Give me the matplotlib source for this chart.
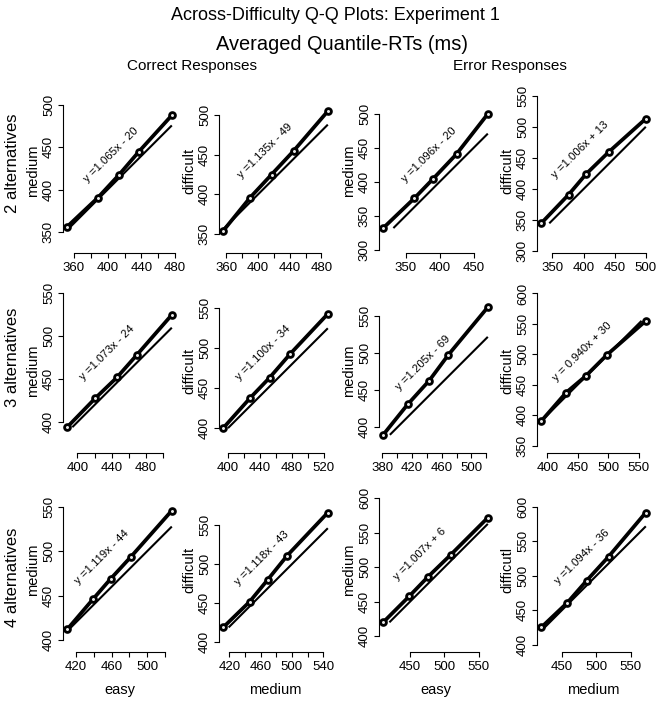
import numpy as np
import matplotlib.pyplot as plt

plt.rcParams['font.family'] = ['Liberation Sans', 'DejaVu Sans']

# ---------------------------------------------------------
# Averaged quantile RTs (ms), 5 quantiles per condition
# ---------------------------------------------------------
alternatives = ["2 alternatives", "3 alternatives", "4 alternatives"]

correct_easy = [[352, 388, 413, 437, 476],
                [388, 421, 446, 469, 510],
                [410, 439, 459, 482, 528]]
correct_medium = [[356, 390, 417, 445, 488],
                  [394, 428, 452, 478, 525],
                  [412, 446, 469, 494, 546]]
correct_difficult = [[354, 396, 425, 455, 505],
                     [400, 438, 463, 493, 543],
                     [419, 452, 480, 511, 566]]

error_easy = [[317, 363, 390, 425, 471],
              [381, 414, 443, 469, 522],
              [411, 449, 476, 509, 563]]
error_medium = [[332, 376, 404, 441, 500],
                [390, 431, 463, 498, 562],
                [420, 458, 486, 518, 572]]
error_difficult = [[345, 391, 424, 460, 513],
                   [390, 437, 464, 499, 555],
                   [425, 461, 493, 528, 592]]

fit_labels = [
    ["y =1.065x - 20", "y =1.135x - 49", "y =1.096x - 20", "y =1.006x + 13"],
    ["y =1.073x - 24", "y =1.100x - 34", "y =1.205x - 69", "y = 0.940x + 30"],
    ["y =1.119x - 44", "y =1.118x - 43", "y =1.007x + 6", "y =1.094x - 36"],
]
y_names = [
    ["medium", "difficult", "medium", "difficult"],
    ["medium", "difficult", "medium", "difficult"],
    ["medium", "difficult", "medium", "difficutl"],
]
x_names = ["easy", "medium", "easy", "medium"]

# tick spacing per panel (x, y)
x_steps = [[20, 20, 50, 50], [20, 20, 20, 50], [20, 20, 50, 50]]
y_steps = [[50, 50, 50, 50], [50, 50, 50, 50], [50, 50, 50, 50]]

# where the fit equation sits (axes fraction)
annot_pos = [
    [(0.43, 0.60), (0.41, 0.62), (0.44, 0.60), (0.38, 0.63)],
    [(0.39, 0.61), (0.39, 0.61), (0.39, 0.55), (0.40, 0.62)],
    [(0.34, 0.58), (0.38, 0.57), (0.36, 0.60), (0.40, 0.58)],
]

# ---------------------------------------------------------
# Layout (pixels)
# ---------------------------------------------------------
W, H = 664, 703
col_left = [63, 219, 379, 537]
row_bottom = [253, 453, 652]
row_label_y = [163, 357, 577]
box_w, box_h = 113, 164

fig = plt.figure(figsize=(W / 100, H / 100), dpi=100)


def asp_limits(x, y, w, h):
    # like R's plot.window(asp = 1): 4% padding, then stretch one axis
    x0, x1 = min(x), max(x)
    y0, y1 = min(y), max(y)
    x0, x1 = x0 - 0.04 * (x1 - x0), x1 + 0.04 * (x1 - x0)
    y0, y1 = y0 - 0.04 * (y1 - y0), y1 + 0.04 * (y1 - y0)
    scale = min(w / (x1 - x0), h / (y1 - y0))
    xc, yc = (x0 + x1) / 2, (y0 + y1) / 2
    xr, yr = w / scale, h / scale
    return (xc - xr / 2, xc + xr / 2), (yc - yr / 2, yc + yr / 2)


def ticks_in(lim, step):
    start = np.ceil(lim[0] / step) * step
    return np.arange(start, lim[1] + 1e-9, step)


for r in range(3):
    pairs = [(correct_easy[r], correct_medium[r]),
             (correct_medium[r], correct_difficult[r]),
             (error_easy[r], error_medium[r]),
             (error_medium[r], error_difficult[r])]
    for c, (x, y) in enumerate(pairs):
        ax = fig.add_axes([col_left[c] / W, 1 - row_bottom[r] / H, box_w / W, box_h / H])
        xlim, ylim = asp_limits(x, y, box_w, box_h)
        ax.set_xlim(xlim)
        ax.set_ylim(ylim)

        # identity line over the shared range
        lo, hi = max(min(x), min(y)), min(max(x), max(y))
        ax.plot([lo, hi], [lo, hi], color='black', lw=1.5, solid_capstyle='butt')
        ax.plot(x, y, color='black', lw=2.7, marker='o', ms=4.2, mew=2.0,
                mfc='#e8e8e8', mec='black', solid_capstyle='butt')

        ax.text(annot_pos[r][c][0], annot_pos[r][c][1], fit_labels[r][c],
                transform=ax.transAxes, rotation=45, ha='center', va='center',
                rotation_mode='anchor', fontsize=8.2)

        xt = ticks_in(xlim, x_steps[r][c])
        yt = ticks_in(ylim, y_steps[r][c])
        ax.set_xticks(xt)
        if x_steps[r][c] == 20:
            ax.set_xticklabels([f"{v:.0f}" if i % 2 == 0 else "" for i, v in enumerate(xt)])
        else:
            ax.set_xticklabels([f"{v:.0f}" for v in xt])
        ax.set_yticks(yt)
        ax.set_yticklabels([f"{v:.0f}" for v in yt], rotation=90, va='center')

        for side in ['top', 'right']:
            ax.spines[side].set_visible(False)
        ax.spines['left'].set_bounds(yt[0], yt[-1])
        ax.spines['bottom'].set_bounds(xt[0], xt[-1])
        for side in ['left', 'bottom']:
            ax.spines[side].set_linewidth(0.8)
        ax.tick_params(axis='both', length=3.8, width=0.8, labelsize=9.5)
        ax.tick_params(axis='x', pad=3)
        ax.tick_params(axis='y', pad=2)
        ax.patch.set_visible(False)

        ax.text(-30 / box_w, 0.5, y_names[r][c], transform=ax.transAxes,
                rotation=90, ha='center', va='center', fontsize=10.5)
        if r == 2:
            ax.text(0.5, -38 / box_h, x_names[c], transform=ax.transAxes,
                    ha='center', va='center', fontsize=10.5)

    fig.text(13 / W, 1 - row_label_y[r] / H, alternatives[r],
             rotation=90, ha='center', va='center', fontsize=12)

fig.text(335 / W, 1 - 15 / H, "Across-Difficulty Q-Q Plots: Experiment 1",
         ha='center', va='center', fontsize=13)
fig.text(342 / W, 1 - 45 / H, "Averaged Quantile-RTs (ms)",
         ha='center', va='center', fontsize=14.4)
fig.text(192 / W, 1 - 66 / H, "Correct Responses", ha='center', va='center', fontsize=11)
fig.text(510 / W, 1 - 66 / H, "Error Responses", ha='center', va='center', fontsize=11)

fig.savefig("out.png", dpi=100)
